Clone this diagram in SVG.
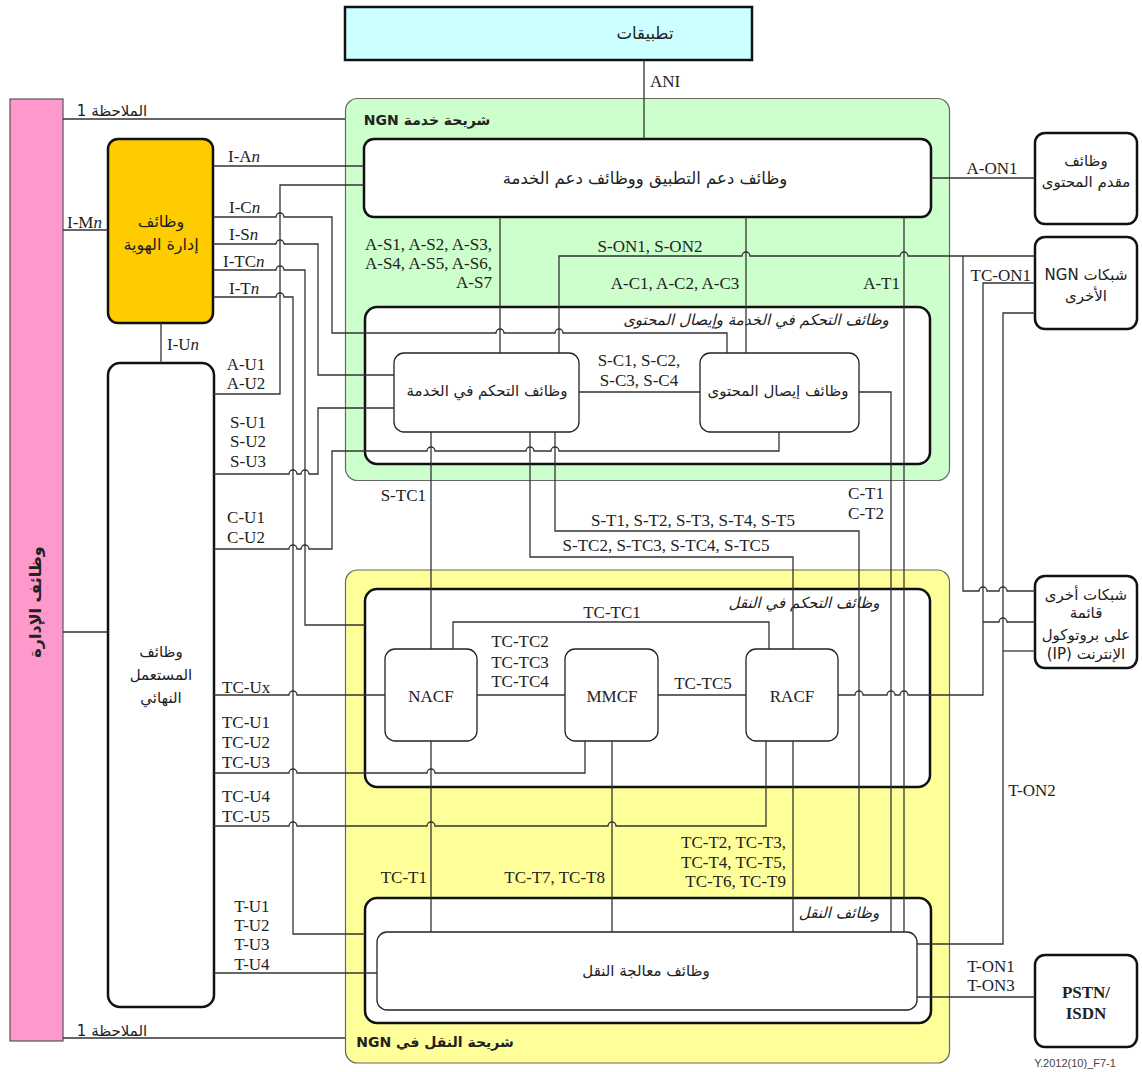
<svg xmlns="http://www.w3.org/2000/svg" width="1142" height="1072" viewBox="0 0 1142 1072">
<style>
.bx{fill:#fff;stroke:#111;stroke-width:2.5}
.ib{fill:#fff;stroke:#222;stroke-width:1.3}
.st{stroke:#666;stroke-width:1.2}
.c{fill:none;stroke:#333;stroke-width:1.3}
.l{font-family:"Liberation Serif","Times New Roman",serif;font-size:17px;fill:#222}
.m{text-anchor:middle}
.e{text-anchor:end}
.ar{font-family:"DejaVu Sans","Noto Sans",sans-serif;font-size:15px;fill:#222;direction:rtl;text-anchor:middle}
.it{font-style:italic}
.b{font-weight:bold}
</style>
<rect width="1142" height="1072" fill="#fff"/>

<g id="strata">
<rect x="345.5" y="98.5" width="604" height="382" rx="12" fill="#ccffcc" class="st"/>
<text class="ar b" x="427" y="125" style="font-size:14px">شريحة خدمة NGN</text>
<rect x="345.5" y="570" width="604" height="493" rx="12" fill="#ffff99" class="st"/>
<text class="ar b" x="435" y="1047" style="font-size:14px">شريحة النقل في NGN</text>
</g>

<g id="management">
<rect x="10" y="99" width="53" height="942" fill="#ff99cc" stroke="#555" stroke-width="1.2"/>
<text class="ar b" transform="translate(41,602) rotate(-90)" style="font-size:16px">وظائف الإدارة</text>
</g>

<g id="applications">
<rect x="345" y="7" width="407" height="53" fill="#ccffff" stroke="#111" stroke-width="2.5"/>
<text class="ar" x="645" y="39" style="font-size:16.5px">تطبيقات</text>
</g>

<g id="app-support">
<rect class="bx" x="364" y="139" width="567" height="78" rx="10"/>
<text class="ar" x="645" y="184" style="font-size:16.5px">وظائف دعم التطبيق ووظائف دعم الخدمة</text>
</g>

<g id="scdc">
<rect class="bx" x="365" y="307" width="565" height="157" rx="12"/>
<text class="ar it" x="756" y="325">وظائف التحكم في الخدمة وإيصال المحتوى</text>
</g>

<g id="service-control">
<rect class="ib" x="394" y="353" width="185" height="79" rx="10"/>
<text class="ar" x="487" y="396">وظائف التحكم في الخدمة</text>
</g>

<g id="content-delivery">
<rect class="ib" x="700" y="353" width="159" height="79" rx="10"/>
<text class="ar" x="778" y="396">وظائف إيصال المحتوى</text>
</g>

<g id="transport-control">
<rect class="bx" x="365" y="589" width="565" height="198" rx="12"/>
<text class="ar it" x="804" y="608">وظائف التحكم في النقل</text>
</g>

<g id="nacf">
<rect class="ib" x="385" y="649" width="92" height="92" rx="10"/>
<text class="l m" x="431" y="702">NACF</text>
</g>

<g id="mmcf">
<rect class="ib" x="565" y="649" width="93" height="92" rx="10"/>
<text class="l m" x="612" y="702">MMCF</text>
</g>

<g id="racf">
<rect class="ib" x="746" y="649" width="92" height="92" rx="10"/>
<text class="l m" x="792" y="702">RACF</text>
</g>

<g id="transport">
<rect class="bx" x="365" y="898" width="566" height="125" rx="12"/>
<text class="ar it" x="839" y="918">وظائف النقل</text>
</g>

<g id="transport-processing">
<rect class="ib" x="377" y="932" width="540" height="78" rx="10"/>
<text class="ar" x="646" y="976">وظائف معالجة النقل</text>
</g>

<g id="identity">
<rect x="108" y="139" width="105" height="184" rx="10" fill="#ffcc00" stroke="#111" stroke-width="2.5"/>
<text class="ar" x="161" y="227" style="font-size:16px">وظائف</text>
<text class="ar" x="161" y="250" style="font-size:16px">إدارة الهوية</text>
</g>

<g id="end-user">
<rect class="bx" x="108" y="363" width="106" height="644" rx="12"/>
<text class="ar" x="161" y="657">وظائف</text>
<text class="ar" x="161" y="680">المستعمل</text>
<text class="ar" x="161" y="703">النهائي</text>
</g>

<g id="content-provider">
<rect class="bx" x="1035" y="133" width="102" height="91" rx="10"/>
<text class="ar" x="1086" y="166">وظائف</text>
<text class="ar" x="1086" y="187">مقدم المحتوى</text>
</g>

<g id="other-ngn">
<rect class="bx" x="1035" y="237" width="102" height="92" rx="10"/>
<text class="ar" x="1086" y="280">شبكات NGN</text>
<text class="ar" x="1086" y="301">الأخرى</text>
</g>

<g id="other-ip">
<rect class="bx" x="1035" y="576" width="102" height="92" rx="10"/>
<text class="ar" x="1086" y="600">شبكات أخرى</text>
<text class="ar" x="1086" y="618">قائمة</text>
<text class="ar" x="1086" y="640">على بروتوكول</text>
<text class="ar" x="1086" y="659">الإنترنت (IP)</text>
</g>

<g id="pstn">
<rect class="bx" x="1035" y="955" width="102" height="92" rx="10"/>
<text class="l m b" x="1086" y="998">PSTN/</text>
<text class="l m b" x="1086" y="1019">ISDN</text>
</g>

<g id="connectors">
<path class="c" d="M644,60 V139"/>
<path class="c" d="M63,119 H345"/>
<path class="c" d="M63,1038 H345"/>
<path class="c" d="M63,230 H108"/>
<path class="c" d="M63,632 H108"/>
<path class="c" d="M161,323 V363"/>
<path class="c" d="M213,166 H364"/>
<path class="c" d="M213,217 H276 a4,4 0 0 1 8,0 H332 V333 H496 a4,4 0 0 1 8,0 H555 a4,4 0 0 1 8,0 H727 V353"/>
<path class="c" d="M213,244 H276 a4,4 0 0 1 8,0 H318 V375 H394"/>
<path class="c" d="M213,270 H276 a4,4 0 0 1 8,0 H305 V625 H365"/>
<path class="c" d="M213,297 H276 a4,4 0 0 1 8,0 H293 V934 H365"/>
<path class="c" d="M214,394 H280 V185 H364"/>
<path class="c" d="M214,474 H289 a4,4 0 0 1 8,0 H301 a4,4 0 0 1 8,0 H318 V408 H394"/>
<path class="c" d="M214,549 H289 a4,4 0 0 1 8,0 H301 a4,4 0 0 1 8,0 H332 V451 H427 a4,4 0 0 1 8,0 H526 a4,4 0 0 1 8,0 H551 a4,4 0 0 1 8,0 H779 V432"/>
<path class="c" d="M214,695 H289 a4,4 0 0 1 8,0 H385"/>
<path class="c" d="M214,773 H289 a4,4 0 0 1 8,0 H427 a4,4 0 0 1 8,0 H585 V741"/>
<path class="c" d="M214,826 H289 a4,4 0 0 1 8,0 H427 a4,4 0 0 1 8,0 H608 a4,4 0 0 1 8,0 H766 V741"/>
<path class="c" d="M214,973 H377"/>
<path class="c" d="M500,217 V353"/>
<path class="c" d="M559,353 V256 H742 a4,4 0 0 1 8,0 H900 a4,4 0 0 1 8,0 H1035"/>
<path class="c" d="M963,256 V591 H979 a4,4 0 0 1 8,0 H999 a4,4 0 0 1 8,0 H1035"/>
<path class="c" d="M746,217 V353"/>
<path class="c" d="M904,217 V932"/>
<path class="c" d="M579,392 H700"/>
<path class="c" d="M859,392 H891 V932"/>
<path class="c" d="M431,432 V649 M431,741 V932"/>
<path class="c" d="M530,432 V557 H793 V649"/>
<path class="c" d="M555,432 V531 H859 V898"/>
<path class="c" d="M453,649 V622 H769 V649"/>
<path class="c" d="M477,695 H565"/>
<path class="c" d="M658,695 H746"/>
<path class="c" d="M612,741 V932"/>
<path class="c" d="M793,741 V932"/>
<path class="c" d="M838,695 H855 a4,4 0 0 1 8,0 H887 a4,4 0 0 1 8,0 H900 a4,4 0 0 1 8,0 H983 V283 H1035"/>
<path class="c" d="M983,622 H999 a4,4 0 0 1 8,0 H1035"/>
<path class="c" d="M1035,313 H1003 V944 H917"/>
<path class="c" d="M1003,651 H1035"/>
<path class="c" d="M917,997 H1035"/>
<path class="c" d="M931,178 H1035"/>
</g>

<g id="labels">
<text class="l" x="650" y="87">ANI</text>
<text class="ar" x="112" y="116">الملاحظة 1</text>
<text class="ar" x="112" y="1036">الملاحظة 1</text>
<text class="l" x="228" y="162">I-A<tspan class="it">n</tspan></text>
<text class="l" x="229" y="213">I-C<tspan class="it">n</tspan></text>
<text class="l" x="229" y="240">I-S<tspan class="it">n</tspan></text>
<text class="l" x="223" y="267">I-TC<tspan class="it">n</tspan></text>
<text class="l" x="229" y="294">I-T<tspan class="it">n</tspan></text>
<text class="l" x="67" y="228">I-M<tspan class="it">n</tspan></text>
<text class="l" x="167" y="350">I-U<tspan class="it">n</tspan></text>
<text class="l m" x="246" y="370">A-U1</text>
<text class="l m" x="246" y="389">A-U2</text>
<text class="l m" x="248" y="428">S-U1</text>
<text class="l m" x="248" y="447">S-U2</text>
<text class="l m" x="248" y="467">S-U3</text>
<text class="l m" x="246" y="523">C-U1</text>
<text class="l m" x="246" y="543">C-U2</text>
<text class="l" x="222" y="693">TC-Ux</text>
<text class="l m" x="246" y="728">TC-U1</text>
<text class="l m" x="246" y="748">TC-U2</text>
<text class="l m" x="246" y="768">TC-U3</text>
<text class="l m" x="246" y="802">TC-U4</text>
<text class="l m" x="246" y="822">TC-U5</text>
<text class="l m" x="252" y="912">T-U1</text>
<text class="l m" x="252" y="931">T-U2</text>
<text class="l m" x="252" y="950">T-U3</text>
<text class="l m" x="252" y="970">T-U4</text>
<text class="l e" x="492" y="250">A-S1, A-S2, A-S3,</text>
<text class="l e" x="492" y="269">A-S4, A-S5, A-S6,</text>
<text class="l e" x="492" y="288">A-S7</text>
<text class="l m" x="650" y="252">S-ON1, S-ON2</text>
<text class="l m" x="675" y="289">A-C1, A-C2, A-C3</text>
<text class="l e" x="900" y="289">A-T1</text>
<text class="l m" x="992" y="174">A-ON1</text>
<text class="l e" x="1031" y="281">TC-ON1</text>
<text class="l m" x="639" y="366">S-C1, S-C2,</text>
<text class="l m" x="639" y="386">S-C3, S-C4</text>
<text class="l e" x="426" y="501">S-TC1</text>
<text class="l e" x="884" y="499">C-T1</text>
<text class="l e" x="884" y="519">C-T2</text>
<text class="l m" x="693" y="526">S-T1, S-T2, S-T3, S-T4, S-T5</text>
<text class="l m" x="666" y="551">S-TC2, S-TC3, S-TC4, S-TC5</text>
<text class="l m" x="612" y="618">TC-TC1</text>
<text class="l m" x="520" y="647">TC-TC2</text>
<text class="l m" x="520" y="668">TC-TC3</text>
<text class="l m" x="520" y="687">TC-TC4</text>
<text class="l m" x="703" y="689">TC-TC5</text>
<text class="l e" x="427" y="883">TC-T1</text>
<text class="l e" x="605" y="883">TC-T7, TC-T8</text>
<text class="l e" x="786" y="848">TC-T2, TC-T3,</text>
<text class="l e" x="786" y="868">TC-T4, TC-T5,</text>
<text class="l e" x="786" y="887">TC-T6, TC-T9</text>
<text class="l m" x="1032" y="796">T-ON2</text>
<text class="l m" x="991" y="972">T-ON1</text>
<text class="l m" x="991" y="991">T-ON3</text>
<text x="1075" y="1067" font-family="Liberation Sans, Arial, sans-serif" font-size="11" fill="#444" text-anchor="middle">Y.2012(10)_F7-1</text>
</g>
</svg>
